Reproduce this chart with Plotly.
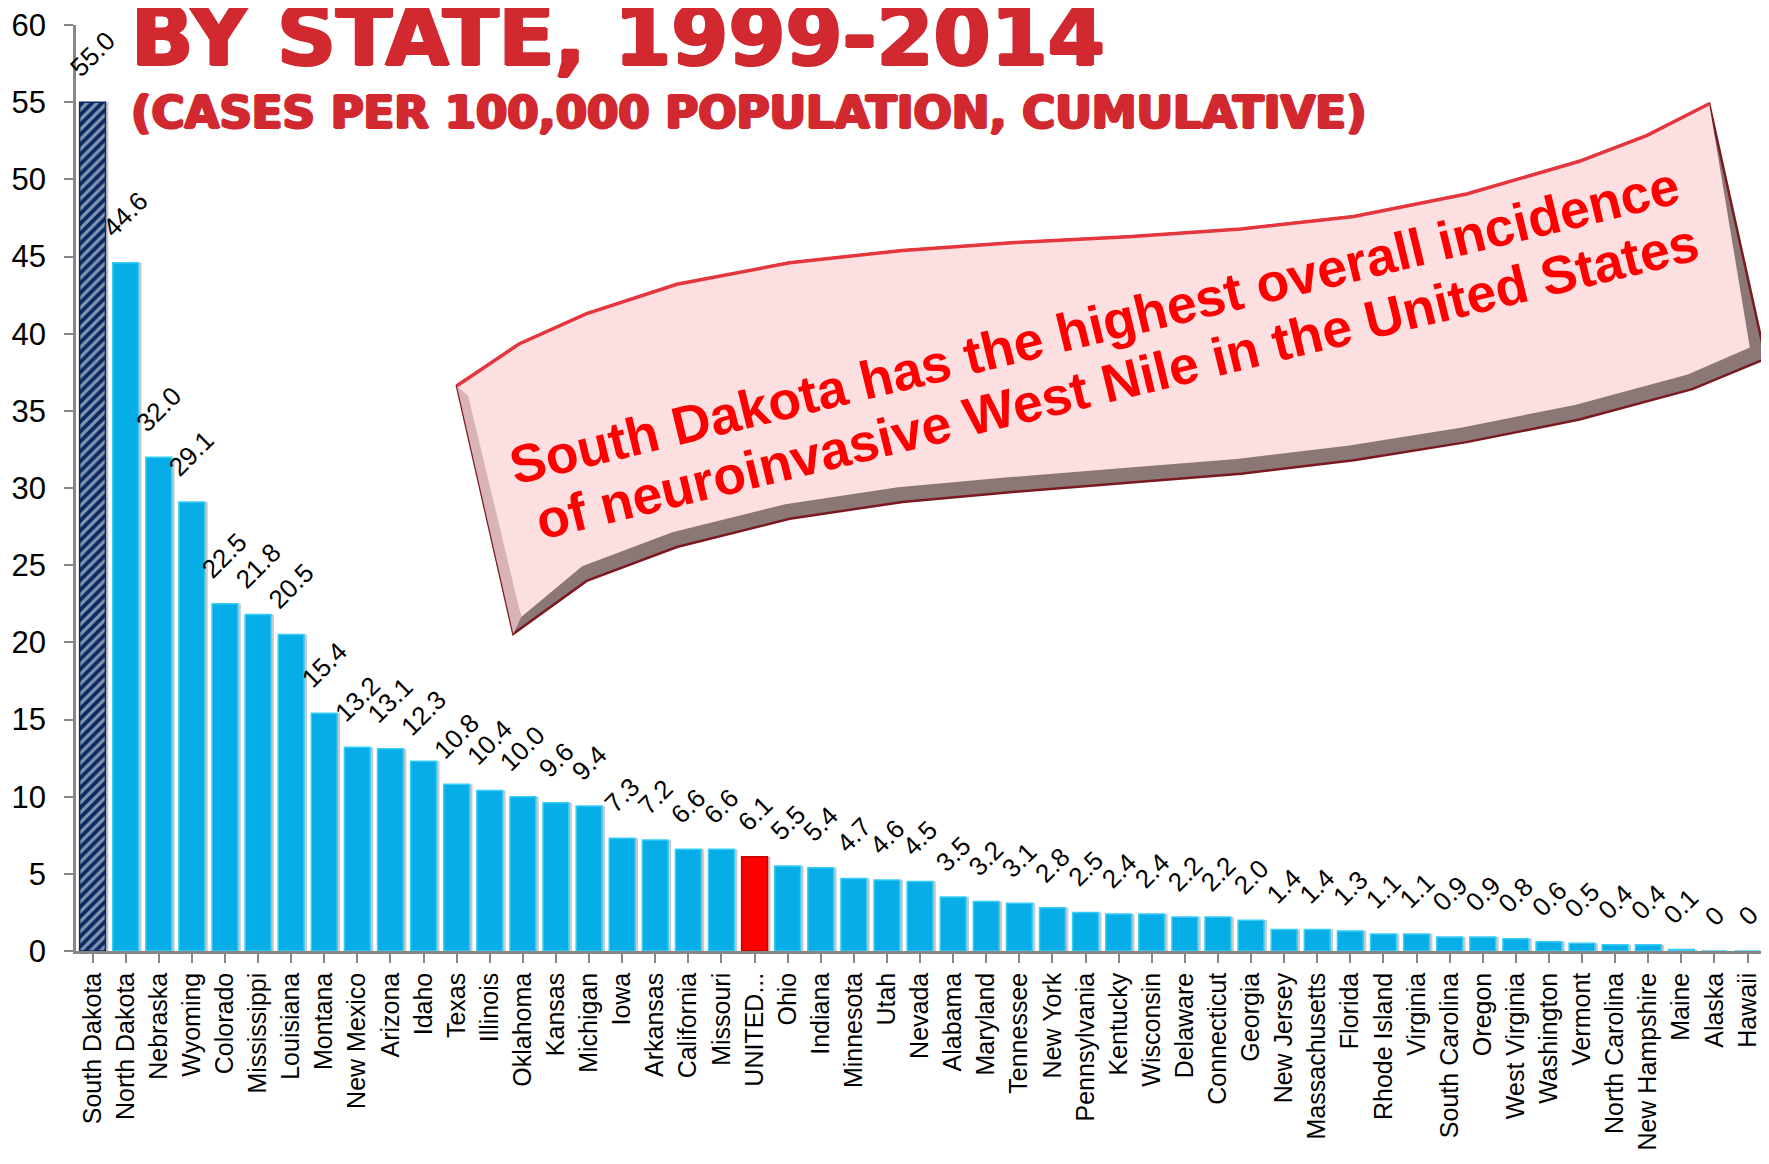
import plotly.graph_objects as go

# ---------------- data ----------------
states = ["South Dakota", "North Dakota", "Nebraska", "Wyoming", "Colorado", "Mississippi",
          "Louisiana", "Montana", "New Mexico", "Arizona", "Idaho", "Texas", "Illinois",
          "Oklahoma", "Kansas", "Michigan", "Iowa", "Arkansas", "California", "Missouri",
          "UNITED...", "Ohio", "Indiana", "Minnesota", "Utah", "Nevada", "Alabama", "Maryland",
          "Tennessee", "New York", "Pennsylvania", "Kentucky", "Wisconsin", "Delaware",
          "Connecticut", "Georgia", "New Jersey", "Massachusetts", "Florida", "Rhode Island",
          "Virginia", "South Carolina", "Oregon", "West Virginia", "Washington", "Vermont",
          "North Carolina", "New Hampshire", "Maine", "Alaska", "Hawaii"]
incidence = [55.0, 44.6, 32.0, 29.1, 22.5, 21.8, 20.5, 15.4, 13.2, 13.1, 12.3, 10.8, 10.4,
             10.0, 9.6, 9.4, 7.3, 7.2, 6.6, 6.6, 6.1, 5.5, 5.4, 4.7, 4.6, 4.5, 3.5, 3.2,
             3.1, 2.8, 2.5, 2.4, 2.4, 2.2, 2.2, 2.0, 1.4, 1.4, 1.3, 1.1, 1.1, 0.9, 0.9,
             0.8, 0.6, 0.5, 0.4, 0.4, 0.1, 0, 0]
y_ticks = [0, 5, 10, 15, 20, 25, 30, 35, 40, 45, 50, 55, 60]

title_line = "BY STATE, 1999-2014"
subtitle_line = "(CASES PER 100,000 POPULATION, CUMULATIVE)"
banner_line1 = "South Dakota has the highest overall incidence"
banner_line2 = "of neuroinvasive West Nile in the United States"

# ---------------- layout geometry ----------------
PAGE_MARGIN = 8                      # default <body> margin of the html page
W, H = 1769 - 2 * PAGE_MARGIN, 1164 - 2 * PAGE_MARGIN
L, R, T, B = 68, 0, 17, H - 943
PW, PH = W - L - R, H - T - B
SX, SY = 1769 / 1568, 1164 / 1032
CAT_PX = 33.1                        # pixel width of one category
x_max = -0.5 + PW / CAT_PX


def paper(xs, ys):
    """convert (shrunk-reference) pixel coordinates into paper coordinates"""
    fx = xs * SX - PAGE_MARGIN
    fy = ys * SY - PAGE_MARGIN
    return (fx - L) / PW, (H - B - fy) / PH


def path_from(points, close=True):
    parts = []
    for i, (x, y) in enumerate(points):
        px, py = paper(x, y)
        parts.append(("M" if i == 0 else "L") + f"{px:.5f},{py:.5f}")
    return " ".join(parts) + (" Z" if close else "")


labels = [f"{v:.1f}" if v else "0" for v in incidence]
bar_colors = ["#0B2A63" if s == "South Dakota" else ("#FF0000" if s.startswith("UNITED") else "#06ADE6")
              for s in states]
line_colors = ["#0B2A63" if s == "South Dakota" else ("#C80000" if s.startswith("UNITED") else "#38CDF6")
               for s in states]
patterns = ["/" if s == "South Dakota" else "" for s in states]
xs = list(range(len(states)))

fig = go.Figure()

# soft shadow behind bars
fig.add_trace(go.Bar(
    x=xs, y=incidence, width=0.86, offset=-0.38,
    marker=dict(color="rgba(90,90,90,0.33)", line=dict(width=0)),
    hoverinfo="skip", showlegend=False,
))

fig.add_trace(go.Bar(
    x=xs, y=incidence, width=0.78,
    marker=dict(color=bar_colors, line=dict(color=line_colors, width=1.5),
                pattern=dict(shape=patterns, fgcolor="#4CC8F5", size=7, solidity=0.45,
                             fillmode="overlay")),
    showlegend=False,
))

annotations = []
# value labels, rotated, above each bar
for i, (v, lab) in enumerate(zip(incidence, labels)):
    annotations.append(dict(
        x=i, y=v, xref="x", yref="y", text=lab, showarrow=False, textangle=-45,
        xanchor="center", yanchor="bottom", yshift=17,
        font=dict(family="Liberation Sans, Arial", size=26, color="black"),
    ))

# ---------------- banner ----------------
top_edge = [(405, 342), (460, 305), (520, 278), (600, 252), (700, 233), (800, 222), (900, 215),
            (1000, 210), (1100, 203), (1200, 192), (1300, 172), (1400, 143), (1460, 120), (1515, 92)]
bottom_edge = [(1565, 318), (1500, 345), (1400, 372), (1300, 392), (1200, 408), (1100, 420),
               (1000, 428), (900, 436), (800, 445), (700, 460), (600, 485), (520, 515), (455, 562)]
outline = top_edge + bottom_edge
front = top_edge + [(1551, 308)] + [(x - 4, y - 13) for x, y in bottom_edge[1:-1]] + [(462, 547)]
left_bevel = [(405, 342), (415, 351), (462, 547), (455, 562)]

shapes = [
    dict(type="path", xref="paper", yref="paper", path=path_from(outline),
         fillcolor="#8C7777", line=dict(color="#7A1A20", width=2.5), layer="above"),
    dict(type="path", xref="paper", yref="paper", path=path_from(front),
         fillcolor="#FCDFE0", line=dict(width=0), layer="above"),
    dict(type="path", xref="paper", yref="paper", path=path_from(left_bevel),
         fillcolor="#D8B4B7", line=dict(width=0), layer="above"),
    dict(type="path", xref="paper", yref="paper", path=path_from(top_edge, close=False),
         fillcolor="rgba(0,0,0,0)", line=dict(color="#E5363E", width=3.5), layer="above"),
]

heavy = "1.5px 0 0 #D2282F, -1.5px 0 0 #D2282F, 0 1px 0 #D2282F, 0 -1px 0 #D2282F"
annotations += [
    dict(text=title_line, xref="paper", yref="paper", x=paper(114, 0)[0], y=paper(0, 32)[1],
         xanchor="left", yanchor="middle", showarrow=False,
         font=dict(family="DejaVu Sans", size=82, color="#D2282F", weight="bold", shadow=heavy)),
    dict(text=subtitle_line, xref="paper", yref="paper", x=paper(114, 0)[0], y=paper(0, 100)[1],
         xanchor="left", yanchor="middle", showarrow=False,
         font=dict(family="DejaVu Sans", size=45, color="#D2282F", weight="bold", shadow=heavy)),
    dict(text=banner_line1, xref="paper", yref="paper", x=paper(970, 0)[0], y=paper(0, 289)[1],
         xanchor="center", yanchor="middle", showarrow=False, textangle=-13.6,
         font=dict(family="Liberation Sans, Arial", size=53.5, color="#FF0000", weight="bold")),
    dict(text=banner_line2, xref="paper", yref="paper", x=paper(990, 0)[0], y=paper(0, 338)[1],
         xanchor="center", yanchor="middle", showarrow=False, textangle=-13.6,
         font=dict(family="Liberation Sans, Arial", size=53.5, color="#FF0000", weight="bold")),
]

fig.update_layout(
    width=W, height=H,
    margin=dict(l=L, r=R, t=T, b=B, autoexpand=False),
    paper_bgcolor="white", plot_bgcolor="white",
    barmode="overlay",
    shapes=shapes, annotations=annotations,
    font=dict(family="Liberation Sans, Arial", color="black"),
)
fig.update_xaxes(
    range=[-0.5, x_max], automargin=False, ticklabeloverflow="allow",
    tickmode="array", tickvals=xs, ticktext=states,
    tickangle=-90, tickfont=dict(size=25, color="black"),
    ticks="outside", tickson="boundaries", ticklen=9, tickwidth=2, tickcolor="#878787",
    showline=True, linecolor="#878787", linewidth=2.5, showgrid=False, zeroline=False,
)
fig.update_yaxes(
    range=[0, 60], tickmode="array", tickvals=y_ticks, automargin=False,
    ticklabeloverflow="allow",
    tickfont=dict(size=31, color="black"),
    ticks="outside", ticklen=9, tickwidth=2, tickcolor="#878787",
    showline=True, linecolor="#878787", linewidth=2.5, showgrid=False, zeroline=False,
    ticklabelstandoff=12,
)

fig.write_html("out.html")
